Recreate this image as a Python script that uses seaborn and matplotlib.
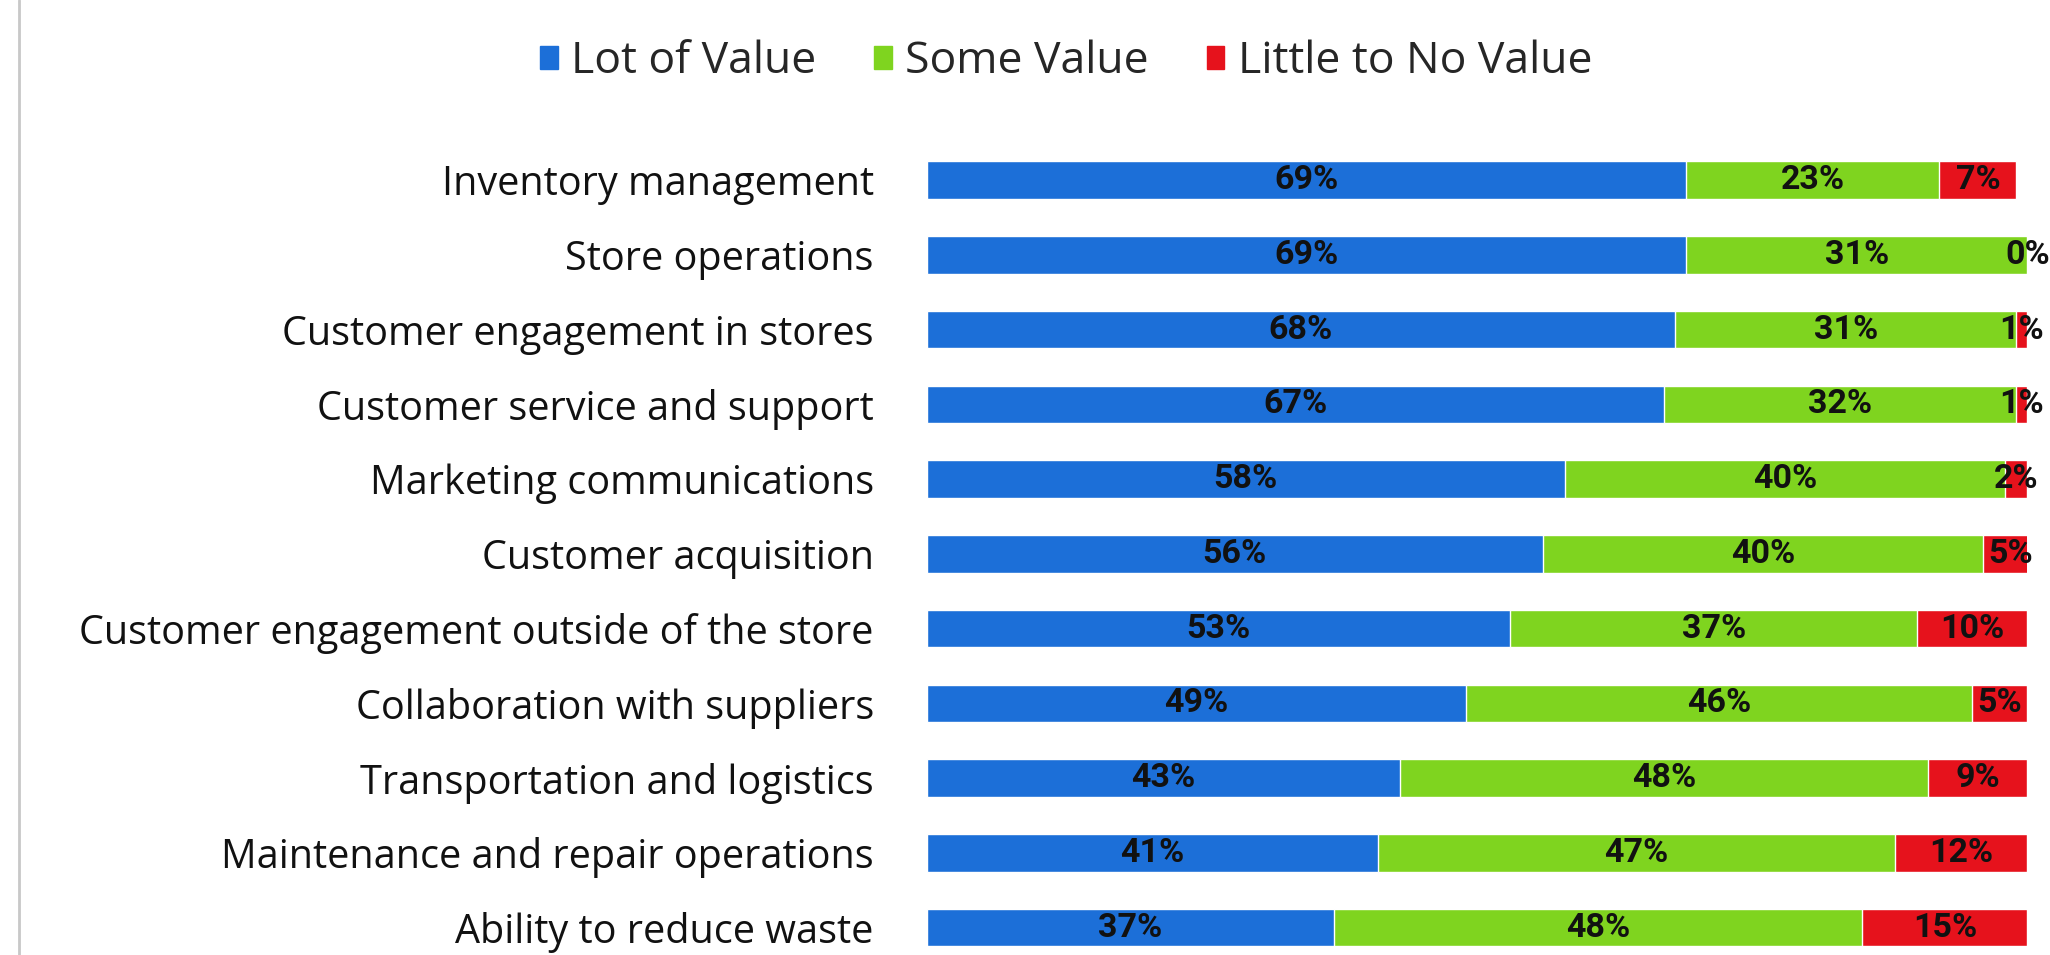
import matplotlib
matplotlib.use("Agg")
import matplotlib.pyplot as plt
import matplotlib.patches as mpatches
from matplotlib import font_manager
import pandas as pd
import seaborn as sns

categories = [
    "Inventory management",
    "Store operations",
    "Customer engagement in stores",
    "Customer service and support",
    "Marketing communications",
    "Customer acquisition",
    "Customer engagement outside of the store",
    "Collaboration with suppliers",
    "Transportation and logistics",
    "Maintenance and repair operations",
    "Ability to reduce waste",
]
lot_of_value = [69, 69, 68, 67, 58, 56, 53, 49, 43, 41, 37]
some_value = [23, 31, 31, 32, 40, 40, 37, 46, 48, 47, 48]
little_value = [7, 0, 1, 1, 2, 5, 10, 5, 9, 12, 15]
series_names = ["Lot of Value", "Some Value", "Little to No Value"]
colors = ["#1c6fd8", "#7fd41f", "#e6121c"]

df = pd.DataFrame({
    "category": categories,
    "lot": lot_of_value,
    "some": some_value,
    "little": little_value,
})
df["cum1"] = df["lot"]
df["cum2"] = df["lot"] + df["some"]
df["cum3"] = df["cum2"] + df["little"]

sns.set_theme(style="white")
plt.rcParams["font.family"] = ["Open Sans", "DejaVu Sans"]

# narrow font for the numbers if there is one
installed = {f.name for f in font_manager.fontManager.ttflist}
if "Liberation Sans Narrow" in installed:
    num_font, num_size = "Liberation Sans Narrow", 26
else:
    num_font, num_size = "Roboto", 24.5

fig = plt.figure(figsize=(20.5, 9.55), dpi=100)
ax = fig.add_axes([0.452, 0.009, 0.537, 0.822])

# stacked bars: draw the totals first, then cover with the smaller sums
for col, c in zip(["cum3", "cum2", "cum1"], colors[::-1]):
    sns.barplot(data=df, x=col, y="category", color=c, width=0.5,
                saturation=1, orient="h", ax=ax)

ax.set_xlim(0, 100)
ax.set_ylim(10.25, -0.25)
ax.set_xlabel("")
ax.set_ylabel("")
ax.set_xticks([])
for s in ax.spines.values():
    s.set_visible(False)
ax.tick_params(axis="y", length=0, pad=38, labelsize=28.5)
for lbl in ax.get_yticklabels():
    lbl.set_color("#111111")

for i, row in df.iterrows():
    starts = [0, row["cum1"], row["cum2"]]
    vals = [row["lot"], row["some"], row["little"]]
    for st, v in zip(starts, vals):
        ax.text(st + v / 2, i, f"{v}%", ha="center", va="center",
                fontsize=num_size, fontweight="bold", color="#111111",
                family=[num_font, "DejaVu Sans"], clip_on=False)

handles = [mpatches.Patch(color=c, label=n) for c, n in zip(colors, series_names)]
fig.legend(handles=handles, loc="center", bbox_to_anchor=(0.52, 0.935),
           ncol=3, frameon=False, fontsize=32, handlelength=0.4,
           handleheight=0.4, handletextpad=0.3, columnspacing=1.3)

fig.add_artist(plt.Line2D([19 / 2050, 19 / 2050], [0, 1], color="#c8c8c8", lw=2))

fig.savefig("out.png", dpi=100, facecolor="white")
